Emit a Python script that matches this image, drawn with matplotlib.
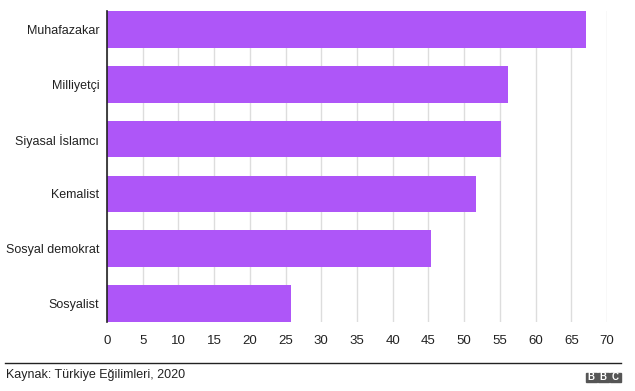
import matplotlib.pyplot as plt
from matplotlib.patches import Rectangle
from matplotlib.lines import Line2D

plt.rcParams['font.family'] = ['Liberation Sans', 'DejaVu Sans']

categories = ['Muhafazakar', 'Milliyetçi', 'Siyasal İslamcı', 'Kemalist',
              'Sosyal demokrat', 'Sosyalist']
values = [67.1, 56.2, 55.2, 51.7, 45.4, 25.7]
xticks = list(range(0, 75, 5))
source = 'Kaynak: Türkiye Eğilimleri, 2020'

purple = '#ae56f8'

fig = plt.figure(figsize=(6.35, 3.91), dpi=100)
ax = fig.add_axes([107 / 635, 1 - 322 / 391, 500 / 635, 311 / 391])

ypos = list(range(len(categories)))
ax.barh(ypos, values, height=0.67, color=purple, zorder=2)
ax.set_ylim(len(categories) - 1 + 0.335, -0.335)
ax.set_xlim(0, 70)
ax.set_yticks(ypos)
ax.set_yticklabels(categories, fontsize=9)
ax.set_xticks(xticks)
ax.set_xticklabels([str(t) for t in xticks], fontsize=9.5)
ax.tick_params(axis='both', length=0, colors='#222222')
ax.tick_params(axis='x', pad=9.5)
ax.tick_params(axis='y', pad=5.5)
ax.grid(axis='x', color='#dddddd', linewidth=1, zorder=0)
for s in ['top', 'right', 'bottom']:
    ax.spines[s].set_visible(False)
ax.spines['left'].set_color('#222222')
ax.spines['left'].set_linewidth(1.2)
ax.spines['left'].set_zorder(3)

# footer rule and source
fig.add_artist(Line2D([5 / 635, 621 / 635], [1 - 363 / 391, 1 - 363 / 391],
                      color='#222222', linewidth=1, transform=fig.transFigure))
fig.text(6 / 635, 1 - 375 / 391, source, fontsize=9, color='#222222',
         va='center', ha='left')

# BBC blocks
bw, bh, gap = 10.5, 9, 1.5
x0, y0 = 586, 372.5
for i, letter in enumerate('BBC'):
    xl = x0 + i * (bw + gap)
    fig.add_artist(Rectangle((xl / 635, 1 - (y0 + bh) / 391), bw / 635, bh / 391,
                             color='#555555', transform=fig.transFigure))
    fig.text((xl + bw / 2) / 635, 1 - (y0 + bh / 2) / 391 - 0.001, letter,
             fontsize=7, color='white', fontweight='bold', ha='center',
             va='center')

fig.savefig('out.png', dpi=100)
